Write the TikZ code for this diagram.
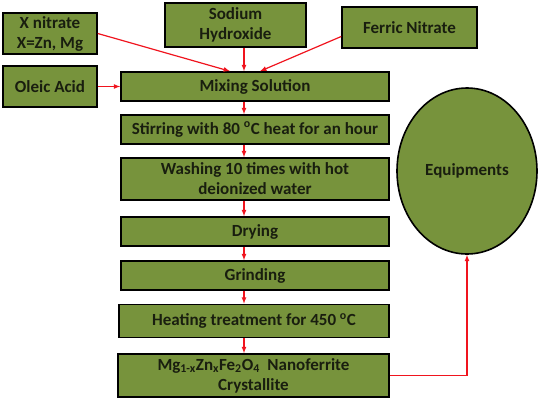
\documentclass[tikz,border=0pt]{standalone}
\usepackage{fontspec}
\setmainfont{Carlito}
\usepackage{xcolor}
\usetikzlibrary{arrows}
\usetikzlibrary{shapes.geometric}
\definecolor{olivebox}{RGB}{119, 147, 60}
\definecolor{arrowred}{RGB}{240, 20, 30}
\definecolor{darktext}{RGB}{25, 30, 15}
\tikzset{
  procbox/.style={draw=black, line width=1.6pt, fill=olivebox, align=center,
    inner sep=1pt, text=darktext, font=\fontsize{17}{20}\selectfont\bfseries},
  redarrow/.style={draw=arrowred, -latex, line width=1.2pt}
}

\begin{document}
\begin{tikzpicture}[x=1pt,y=-1pt]
\useasboundingbox (0,0) rectangle (543,400);

% inputs
\node[procbox, minimum width=94pt, minimum height=41pt] (xnit) at (50,33.5) {X nitrate\\X=Zn, Mg};
\node[procbox, minimum width=94pt, minimum height=41pt] (oleic) at (50,86.5) {Oleic Acid};
\node[procbox, minimum width=141pt, minimum height=44pt] (sodium) at (235.5,25) {Sodium\\Hydroxide};
\node[procbox, minimum width=135pt, minimum height=41pt] (ferric) at (409.5,27.5) {Ferric Nitrate};

% process steps
\node[procbox, minimum width=268pt, minimum height=29pt] (mix) at (255,86.5) {Mixing Solution};
\node[procbox, minimum width=268pt, minimum height=29pt] (stir) at (255,129.5) {Stirring with 80 \textsuperscript{o}C heat for an hour};
\node[procbox, minimum width=268pt, minimum height=42pt] (wash) at (255,179) {Washing 10 times with hot\\deionized water};
\node[procbox, minimum width=268pt, minimum height=29pt] (dry) at (255,231.5) {Drying};
\node[procbox, minimum width=268pt, minimum height=29pt] (grind) at (255,275.5) {Grinding};
\node[procbox, minimum width=270pt, minimum height=33pt] (heat) at (254,321) {Heating treatment for 450 \textsuperscript{o}C};
\node[procbox, minimum width=271pt, minimum height=43pt] (final) at (253.5,375.5)
  {Mg\textsubscript{1-x}Zn\textsubscript{x}Fe\textsubscript{2}O\textsubscript{4}\ \ Nanoferrite\\Crystallite};

\node[procbox, ellipse, minimum width=140pt, minimum height=166pt] (equip) at (467,171) {Equipments};

\coordinate (col) at (244,0);

% connectors
\draw[redarrow] (xnit.east) -- ([xshift=-25pt]mix.north);
\draw[redarrow] (sodium.south -| col) -- (mix.north -| col);
\draw[redarrow] ([yshift=-9pt]ferric.west) -- ([xshift=5pt]mix.north);
\draw[redarrow] (oleic.east) -- (mix.west);
\foreach \a/\b in {mix/stir, stir/wash, wash/dry, dry/grind, grind/heat, heat/final}
  \draw[redarrow] (\a.south -| col) -- (\b.north -| col);
\draw[redarrow] (final.east) -| (equip.south);

\end{tikzpicture}
\end{document}
